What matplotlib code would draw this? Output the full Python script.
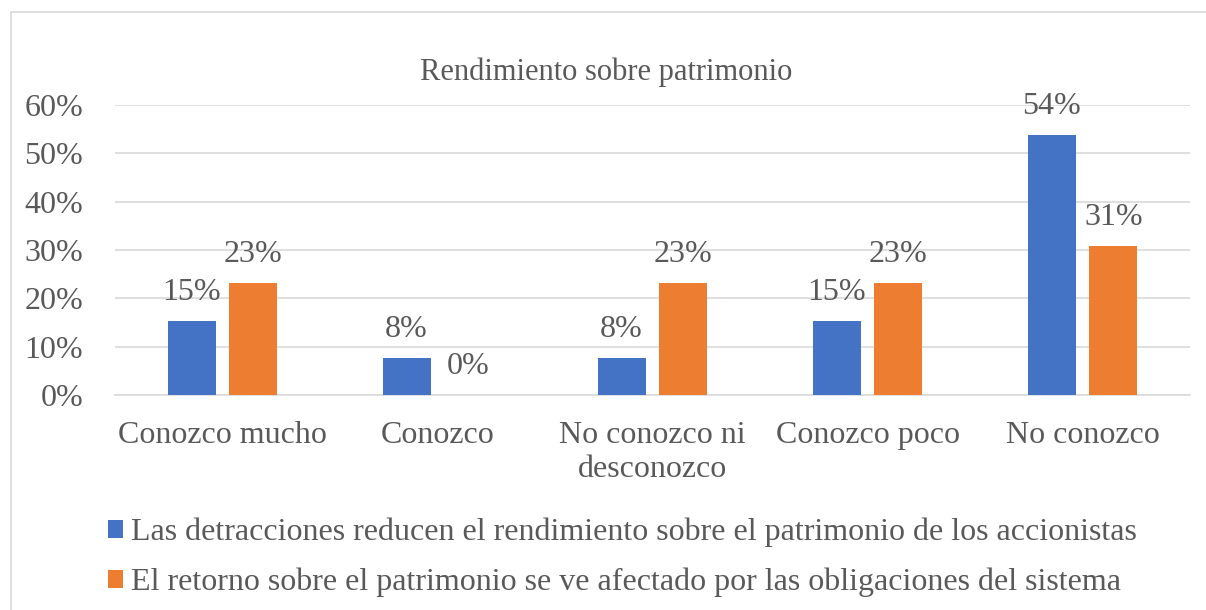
import numpy as np
import matplotlib
matplotlib.use("Agg")
import matplotlib.pyplot as plt
from matplotlib.patches import Rectangle

categories = ["Conozco mucho", "Conozco", "No conozco ni\ndesconozco", "Conozco poco", "No conozco"]
detracciones = [15.38, 7.69, 7.69, 15.38, 53.85]
retorno = [23.08, 0.0, 23.08, 23.08, 30.77]
labels_det = ["15%", "8%", "8%", "15%", "54%"]
labels_ret = ["23%", "0%", "23%", "23%", "31%"]
series_names = [
    "Las detracciones reducen el rendimiento sobre el patrimonio de los accionistas",
    "El retorno sobre el patrimonio se ve afectado por las obligaciones del sistema",
]
yticks = [0, 10, 20, 30, 40, 50, 60]

BLUE = "#4472C4"
ORANGE = "#ED7D31"
TXT = "#595959"
GRID = "#D9D9D9"
FS = 23

plt.rcParams["font.family"] = ["Liberation Serif", "DejaVu Serif"]

W, H = 1206, 610
fig = plt.figure(figsize=(W / 100, H / 100), dpi=100)
ax = fig.add_axes([115 / W, 1 - 395 / H, (1190 - 115) / W, (395 - 105) / H])

x = np.arange(len(categories))
bw = 0.223
off = 0.144
b1 = ax.bar(x - off, detracciones, bw, color=BLUE, label=series_names[0], zorder=3)
b2 = ax.bar(x + off, retorno, bw, color=ORANGE, label=series_names[1], zorder=3)

for bars, labs in ((b1, labels_det), (b2, labels_ret)):
    for rect, lab in zip(bars, labs):
        ax.annotate(lab, (rect.get_x() + rect.get_width() / 2, rect.get_height()),
                    xytext=(0, 20.5), textcoords="offset points",
                    ha="center", va="center", fontsize=FS, color=TXT)

ax.set_xlim(-0.5, len(categories) - 0.5)
ax.set_ylim(0, 60)
ax.set_yticks(yticks)
ax.set_yticklabels([f"{t}%" for t in yticks])
ax.set_xticks(x)
ax.set_xticklabels(categories, linespacing=1.2)
ax.tick_params(axis="y", length=0, pad=23, labelsize=FS, labelcolor=TXT)
ax.tick_params(axis="x", length=0, pad=19, labelsize=FS, labelcolor=TXT)
ax.grid(axis="y", color=GRID, lw=1.2, zorder=0)
for s in ("top", "right", "left"):
    ax.spines[s].set_visible(False)
ax.spines["bottom"].set_color(GRID)
ax.spines["bottom"].set_linewidth(1.2)

fig.text(606 / W, 1 - 72 / H, "Rendimiento sobre patrimonio",
         ha="center", va="center", fontsize=22, color=TXT)

leg = fig.legend(loc="upper left", bbox_to_anchor=(95 / W, 1 - 505 / H),
                 frameon=False, fontsize=FS, labelcolor=TXT,
                 handlelength=0.47, handleheight=0.47, handletextpad=0.25,
                 labelspacing=0.64, borderaxespad=0)

# chart frame (only left and top edges fall inside the picture)
fig.patches.append(Rectangle((11 / W, -0.1), 1.0, 1 - 12 / H + 0.1,
                             transform=fig.transFigure, fill=False,
                             edgecolor=GRID, lw=1.2))

fig.savefig("out.png", dpi=100)
